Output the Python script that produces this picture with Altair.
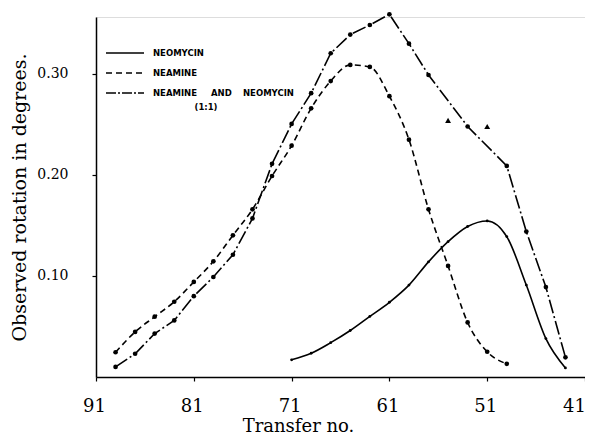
import altair as alt
import pandas as pd

# Neomycin (solid)
neomycin_t = [71, 69, 67, 65, 63, 61, 59, 57, 55, 53, 51, 49, 47, 45, 43]
neomycin_v = [0.017, 0.0235, 0.034, 0.046, 0.060, 0.074, 0.091, 0.114, 0.134,
              0.149, 0.1545, 0.139, 0.091, 0.038, 0.009]

# Neamine (dashed)
neamine_t = [89, 87, 85, 83, 81, 79, 77, 75, 73, 71, 69, 67, 65, 63, 61, 59, 57,
             55, 53, 51, 49]
neamine_v = [0.0245, 0.0446, 0.0597, 0.0745, 0.0941, 0.1145, 0.1403, 0.166,
             0.199, 0.229, 0.266, 0.293, 0.309, 0.307, 0.278, 0.235, 0.166,
             0.110, 0.054, 0.025, 0.013]

# Neamine and neomycin 1:1 (dash-dot)
mixture_t = [89, 87, 85, 83, 81, 79, 77, 75, 73, 71, 69, 67, 65, 63, 61, 59, 57,
             53, 49, 47, 45, 43]
mixture_v = [0.010, 0.023, 0.043, 0.056, 0.080, 0.099, 0.121, 0.157, 0.211,
             0.2505, 0.281, 0.3205, 0.339, 0.3485, 0.359, 0.330, 0.299, 0.248,
             0.209, 0.144, 0.089, 0.0195]

# Extra triangle points
tri_t = [55, 51]
tri_v = [0.254, 0.248]

x_ticks = [91, 81, 71, 61, 51, 41]
y_ticks = [0.10, 0.20, 0.30]

W, H = 489, 360
SERIF = "DejaVu Serif"

xs = alt.Scale(domain=[91, 41], nice=False, zero=False)
ys = alt.Scale(domain=[0, 0.3564], nice=False, zero=False)

x_axis = alt.Axis(values=x_ticks, title="Transfer no.", grid=False, tickSize=4,
                  labelPadding=16, labelFont=SERIF, labelFontSize=18,
                  labelFlush=False, labelOverlap=False, labelColor="black",
                  labelOffset={"condition": {"test": "datum.value === 41", "value": -11},
                               "value": -2},
                  titleFont=SERIF, titleFontSize=18, titleFontWeight="normal",
                  titleColor="black", titlePadding=2, titleX=202,
                  domainColor="black", domainWidth=1.5, tickColor="black",
                  tickWidth=1.2)
y_axis = alt.Axis(values=y_ticks, format=".2f", title="Observed rotation in degrees.",
                  grid=False, tickSize=4, labelPadding=24, labelFont=SERIF,
                  labelFontSize=14, labelColor="black", labelOverlap=False,
                  titleFont=SERIF, titleFontSize=19, titleFontWeight="normal",
                  titleColor="black", titlePadding=7, domainColor="black",
                  domainWidth=1.5, tickColor="black", tickWidth=1.2)

def df(t, v):
    return pd.DataFrame({"t": t, "v": v})

def line(t, v, dash, interp, size):
    base = alt.Chart(df(t, v)).encode(
        x=alt.X("t:Q", scale=xs, axis=x_axis),
        y=alt.Y("v:Q", scale=ys, axis=y_axis),
    )
    kw = dict(color="black", strokeWidth=1.6, interpolate=interp, clip=False)
    if dash:
        kw["strokeDash"] = dash
    l = base.mark_line(**kw)
    p = base.mark_circle(color="black", opacity=1, size=size, clip=False)
    return l + p

neo = line(neomycin_t, neomycin_v, None, "monotone", 8)
nea = line(neamine_t, neamine_v, [6, 4], "monotone", 22)
mix = line(mixture_t, mixture_v, [14, 3, 2, 3], "linear", 22)

tri = alt.Chart(df(tri_t, tri_v)).mark_point(
    shape="triangle-up", filled=True, color="black", opacity=1, size=35
).encode(x=alt.X("t:Q", scale=xs), y=alt.Y("v:Q", scale=ys))

one = pd.DataFrame({"a": [0]})

def leg_line(y, dash):
    kw = dict(color="black", strokeWidth=1.6)
    if dash:
        kw["strokeDash"] = dash
    return alt.Chart(one).mark_rule(**kw).encode(
        x=alt.value(10), x2=alt.value(48), y=alt.value(y))

def leg_text(txt, x, y, align="left"):
    return alt.Chart(one).mark_text(
        text=txt, font="DejaVu Sans", fontWeight="bold", fontSize=8.5,
        align=align, baseline="middle", color="black"
    ).encode(x=alt.value(x), y=alt.value(y))

legend = (
    leg_line(36, None) + leg_text("NEOMYCIN", 57, 36)
    + leg_line(56, [6, 4]) + leg_text("NEAMINE", 57, 56)
    + leg_line(76, [10, 2, 2, 2]) + leg_text("NEAMINE", 57, 76)
    + leg_text("AND", 115, 76) + leg_text("NEOMYCIN", 147, 76)
    + leg_text("(1:1)", 110, 90, "center")
)

chart = alt.layer(mix, nea, neo, tri, legend).properties(
    width=W, height=H,
    autosize=alt.AutoSizeParams(type="none"),
    padding={"left": 88, "top": 9, "right": 0, "bottom": 62},
).configure_view(stroke=None).configure(background="white")

chart.save("out.html", embed_options={"renderer": "svg", "actions": False})
